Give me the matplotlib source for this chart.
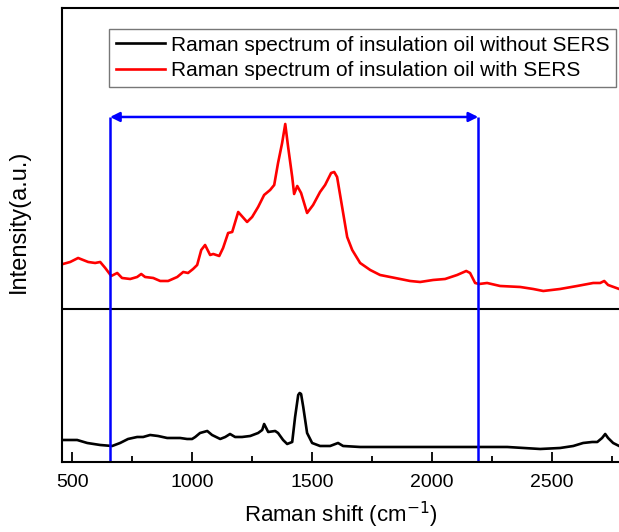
import numpy as np
import matplotlib
matplotlib.use('Agg')
import matplotlib.pyplot as plt

plt.rcParams['font.family'] = ['Liberation Sans', 'DejaVu Sans']

# Raman shift (cm-1) and intensity (a.u.)
red_shift = [462, 492, 525, 567, 596, 617, 638, 663, 688, 708, 742, 771, 788, 804, 838,
             867, 900, 938, 963, 983, 1004, 1021, 1038, 1054, 1075, 1088, 1113, 1129, 1150,
             1167, 1192, 1229, 1250, 1275, 1300, 1325, 1342, 1358, 1375, 1388, 1400, 1417,
             1425, 1438, 1454, 1479, 1504, 1533, 1554, 1579, 1592, 1604, 1625, 1646, 1667,
             1700, 1742, 1783, 1846, 1908, 1950, 2004, 2054, 2104, 2142, 2158, 2179, 2196,
             2229, 2283, 2367, 2421, 2463, 2533, 2604, 2671, 2700, 2717, 2733, 2779]
red_int = [198, 200, 204, 200, 199, 200, 194, 186, 189, 184, 183, 185, 188, 185, 184,
           181, 181, 185, 190, 189, 193, 197, 212, 217, 207, 208, 206, 214, 229,
           230, 250, 240, 245, 255, 267, 272, 277, 299, 319, 338, 315, 285,
           268, 276, 269, 249, 257, 270, 277, 289, 290, 285, 255, 225, 212,
           199, 192, 187, 184, 181, 180, 182, 183, 187, 191, 189, 179, 178,
           179, 176, 175, 173, 171, 173, 176, 179, 179, 181, 177, 173]

black_shift = [462, 521, 563, 617, 667, 700, 733, 771, 796, 825, 858, 896, 950, 979, 1000,
               1013, 1033, 1063, 1083, 1117, 1138, 1158, 1179, 1208, 1242, 1275, 1292, 1300,
               1317, 1346, 1358, 1379, 1396, 1417, 1429, 1442, 1448, 1454, 1463, 1479, 1500,
               1533, 1575, 1608, 1629, 1700, 2033, 2171, 2313, 2450, 2533, 2588, 2629, 2667,
               2688, 2708, 2721, 2733, 2754, 2779]
black_int = [22, 22, 19, 17, 16, 19, 23, 25, 25, 27, 26, 24, 24, 23, 23,
             25, 29, 31, 27, 23, 25, 28, 25, 25, 26, 29, 32, 38,
             30, 31, 29, 22, 18, 20, 45, 67, 69, 68, 55, 29, 19,
             16, 16, 19, 16, 15, 15, 15, 15, 13, 14, 16, 19, 20,
             20, 24, 28, 24, 19, 16]

baseline = 152.5           # separator between the two spectra
region = (658, 2192)       # highlighted shift range
region_top = 345

fig = plt.figure(figsize=(6.19, 5.32), dpi=100)
ax = fig.add_axes([0.1002, 0.1316, 0.9, 0.8534])

ax.plot(black_shift, black_int, color='black', lw=1.9,
        label='Raman spectrum of insulation oil without SERS')
ax.plot(red_shift, red_int, color='red', lw=1.9,
        label='Raman spectrum of insulation oil with SERS')
ax.axhline(baseline, color='black', lw=1.5)

ax.vlines(region, 0, region_top, colors='blue', lw=1.8)
ax.annotate('', xy=(region[0], region_top), xytext=(region[1], region_top),
            arrowprops=dict(arrowstyle='<|-|>', color='blue', lw=1.8,
                            mutation_scale=14, shrinkA=0, shrinkB=0))

ax.set_xlim(458, 2779)
ax.set_ylim(0, 454)
ax.set_xticks([500, 1000, 1500, 2000, 2500])
ax.set_xticks(np.arange(750, 2780, 500), minor=True)
ax.set_yticks([])
ax.tick_params(axis='x', which='major', direction='in', length=7, width=1.3,
               labelsize=14, pad=9)
ax.tick_params(axis='x', which='minor', direction='in', length=4, width=1.3)
for s in ['left', 'bottom', 'top']:
    ax.spines[s].set_linewidth(1.5)
ax.spines['right'].set_visible(False)

ax.set_xlabel('Raman shift (cm$^{-1}$)', fontsize=16, labelpad=6)
ax.set_ylabel('Intensity(a.u.)', fontsize=17)
ax.yaxis.set_label_coords(-0.058, 0.531)

leg = ax.legend(loc='upper right', bbox_to_anchor=(0.9945, 0.9537), fontsize=15,
                frameon=True, fancybox=False, handlelength=2.35, handletextpad=0.3,
                borderpad=0.32, labelspacing=0.3, borderaxespad=0)
leg.get_frame().set_edgecolor('#555555')
leg.get_frame().set_linewidth(1.0)

fig.savefig('out.png', dpi=100)
